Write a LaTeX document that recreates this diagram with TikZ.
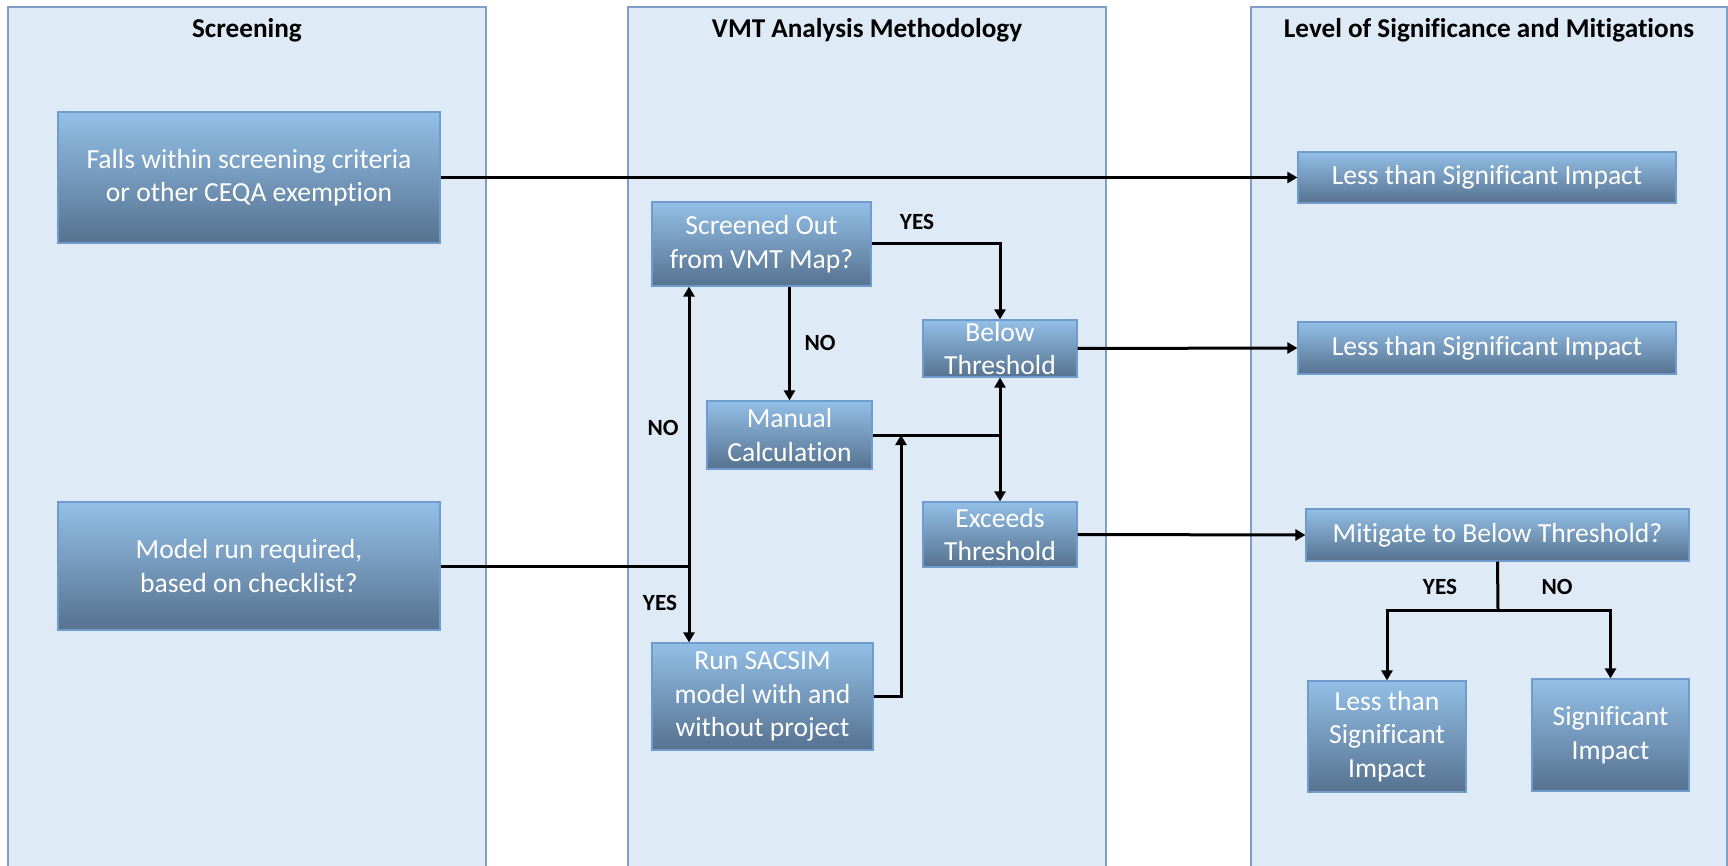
\documentclass[tikz,border=0pt]{standalone}
\usepackage{fontspec}
\setmainfont{Carlito}[Ligatures=NoCommon]
\usetikzlibrary{arrows.meta}
\definecolor{colbg}{HTML}{DEEAF6}
\definecolor{colln}{HTML}{7F9FC8}
\definecolor{btop}{HTML}{93BFE7}
\definecolor{bbot}{HTML}{56728F}
\definecolor{bedge}{HTML}{6F9BCF}
\begin{document}
\begin{tikzpicture}[x=0.5pt,y=-0.5pt,
  col/.style={fill=colbg,draw=colln,line width=0.6pt},
  bx/.style 2 args={draw=bedge,line width=0.6pt,top color=btop,bottom color=bbot,
    text=white,align=center,font=\fontsize{13.8}{16.8}\selectfont,
    minimum width=#1*0.5pt,minimum height=#2*0.5pt,inner sep=0pt},
  ttl/.style={font=\bfseries\fontsize{13.6}{16}\selectfont},
  lbl/.style={font=\bfseries\fontsize{11.6}{14}\selectfont},
  arr/.style={line width=1.5pt,-{Triangle[length=5pt,width=5.5pt]}},
  ln/.style={line width=1.5pt}]
\useasboundingbox (0,0) rectangle (1728,866);
\fill[white] (0,0) rectangle (1728,866);
\clip (0,0) rectangle (1728,866);
% columns
\draw[col] (8,7) rectangle (486,880);
\draw[col] (628,7) rectangle (1106,880);
\draw[col] (1251,7) rectangle (1727,880);
\node[ttl] (t1) at (247,30) {Screening};
\node[ttl] (t2) at (867,30) {VMT Analysis Methodology};
\node[ttl] (t3) at (1489,30) {Level of Significance and Mitigations};
% boxes
\node[bx={382}{131}] (falls) at (249,177.5) {Falls within screening criteria\\or other CEQA exemption};
\node[bx={382}{128}] (model) at (249,566) {Model run required,\\based on checklist?};
\node[bx={219}{84}] (scr) at (761.5,244) {Screened Out\\from VMT Map?};
\node[bx={165}{68}] (man) at (789.5,435) {Manual\\Calculation};
\node[bx={154}{57}] (below) at (1000,348.5) {Below\\Threshold};
\node[bx={154}{65}] (exc) at (1000,534.5) {Exceeds\\Threshold};
\node[bx={221}{107}] (sac) at (762.5,696.5) {Run SACSIM\\model with and\\without project};
\node[bx={378}{51}] (less1) at (1487,177.5) {Less than Significant Impact};
\node[bx={378}{52}] (less2) at (1487,348) {Less than Significant Impact};
\node[bx={383}{52}] (mit) at (1497.5,535) {Mitigate to Below Threshold?};
\node[bx={158}{111}] (ls) at (1387,736.5) {Less than\\Significant\\Impact};
\node[bx={157}{112}] (sig) at (1610.5,735) {Significant\\Impact};
% connectors
\draw[arr] (falls.east) -- (less1.west);
\draw[arr] (below.east) -- (less2.west);
\draw[arr] (exc.east) -- (mit.west);
\draw[arr] (scr.east) -| (below.north);
\draw[arr] (man.north |- scr.south) -- (man.north);
\coordinate (j1) at (689,566);
\draw[ln] (model.east) -- (j1);
\draw[arr] (j1) -- (j1 |- scr.south);
\draw[arr] (j1) -- (j1 |- sac.north);
\coordinate (j2) at (1000,435);
\draw[ln] (man.east) -- (j2);
\draw[arr] (j2) -- (below.south);
\draw[arr] (j2) -- (exc.north);
\coordinate (j3) at (901,435);
\draw[arr] (sac.east) -| (j3);
\coordinate (j4) at (1498,610);
\draw[ln] (mit.south) -- (j4);
\draw[arr] (j4) -| (ls.north);
\draw[arr] (j4) -| (sig.north);
% labels
\node[lbl] (y1) at (917,222) {YES};
\node[lbl] (n1) at (820,343) {NO};
\node[lbl] (n2) at (663,428) {NO};
\node[lbl] (y2) at (660,603) {YES};
\node[lbl] (y3) at (1440,587) {YES};
\node[lbl] (n3) at (1557,587) {NO};
\end{tikzpicture}
\end{document}
